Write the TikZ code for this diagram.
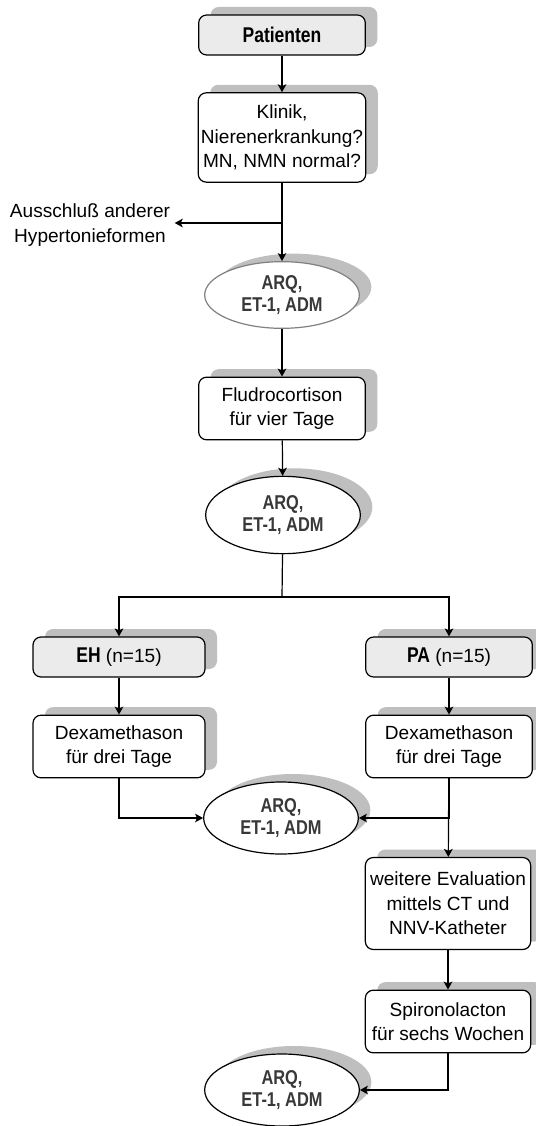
\documentclass[tikz,border=0pt]{standalone}
\usepackage{fontspec}
\setmainfont{Liberation Sans}
\newfontfamily\schmal[FakeStretch=0.82]{Liberation Sans}
\usepackage{tikz}
\usetikzlibrary{shapes.geometric,arrows.meta,shadows,positioning}

\begin{document}
\begin{tikzpicture}[x=0.75pt, y=-0.75pt, font=\fontsize{14.3}{18.4}\selectfont]
	\tikzstyle{kasten} = [rectangle, rounded corners=6pt, draw=black, line width=0.9pt, fill=white, align=center, minimum width=125pt, inner sep=2pt, drop shadow={shadow xshift=9pt, shadow yshift=6pt, opacity=1, fill=black!25}]
	\tikzstyle{grau} = [kasten, fill=black!8]
	\tikzstyle{oval} = [ellipse, draw=black, line width=0.9pt, fill=white, align=center, minimum width=116pt, minimum height=54pt, inner sep=0pt, text=black!78, font=\schmal\bfseries\fontsize{15}{16.5}\selectfont, drop shadow={shadow xshift=9pt, shadow yshift=6pt, opacity=1, fill=black!25}]
	\tikzstyle{pfeil} = [-{Stealth[length=6pt,width=6.5pt,inset=1.5pt]}, line width=0.9pt]
	\useasboundingbox (0,0) rectangle (535,1126);
\node[grau, minimum height=30pt] (1) at (282,35) {\schmal\bfseries\fontsize{16}{16}\selectfont Patienten};
\node[kasten, minimum height=67pt] (2) at (282,137.5) {Klinik,\\Nierenerkrankung?\\MN, NMN normal?};
\node[align=center] (14) at (90,225) {Ausschluß anderer\\Hypertonieformen};
\node[oval, draw=black!50, minimum height=50pt] (3) at (282,295) {ARQ,\\ET-1, ADM};
\node[kasten, minimum height=47pt] (4) at (282,408.5) {Fludrocortison\\für vier Tage};
\node[oval, minimum height=58pt] (5) at (283,515) {ARQ,\\ET-1, ADM};
\node[grau, minimum height=30pt, minimum width=129pt] (6) at (119,657) {{\schmal\bfseries\fontsize{16}{16}\selectfont EH} (n=15)};
\node[grau, minimum height=30pt] (7) at (449,657) {{\schmal\bfseries\fontsize{16}{16}\selectfont PA} (n=15)};
\node[kasten, minimum height=47pt, minimum width=129pt] (8) at (119,746.5) {Dexamethason\\für drei Tage};
\node[kasten, minimum height=47pt] (9) at (449,746.5) {Dexamethason\\für drei Tage};
\node[oval] (10) at (281,818) {ARQ,\\ET-1, ADM};
\node[kasten, minimum height=69pt, minimum width=124pt] (11) at (448,903.5) {weitere Evaluation\\mittels CT und\\NNV-Katheter};
\node[kasten, minimum height=47pt, minimum width=124pt] (12) at (448,1021.5) {Spironolacton\\für sechs Wochen};
\node[oval] (13) at (282,1090) {ARQ,\\ET-1, ADM};
\coordinate (15) at (282,223);
\coordinate (16) at (282,597);
	\path[draw][pfeil] (1) -- (2);
	\path[draw][pfeil] (2) -- (3);
	\path[draw][pfeil] (15) -- (15 -| 14.east);
	\path[draw][pfeil] (3) -- (4);
	\path[draw][pfeil] (4) -- (5);
	\path[draw][line width=0.9pt] (5) -- (16);
	\path[draw][pfeil] (16) -| (6);
	\path[draw][pfeil] (16) -| (7);
	\path[draw][pfeil] (6) -- (8);
	\path[draw][pfeil] (7) -- (9);
	\path[draw][pfeil] (8) |- (10);
	\path[draw][pfeil] (9) |- (10);
	\path[draw][pfeil] (9) -- (11);
	\path[draw][pfeil] (11) -- (12);
	\path[draw][pfeil] (12) |- (13);
\end{tikzpicture}
\end{document}
